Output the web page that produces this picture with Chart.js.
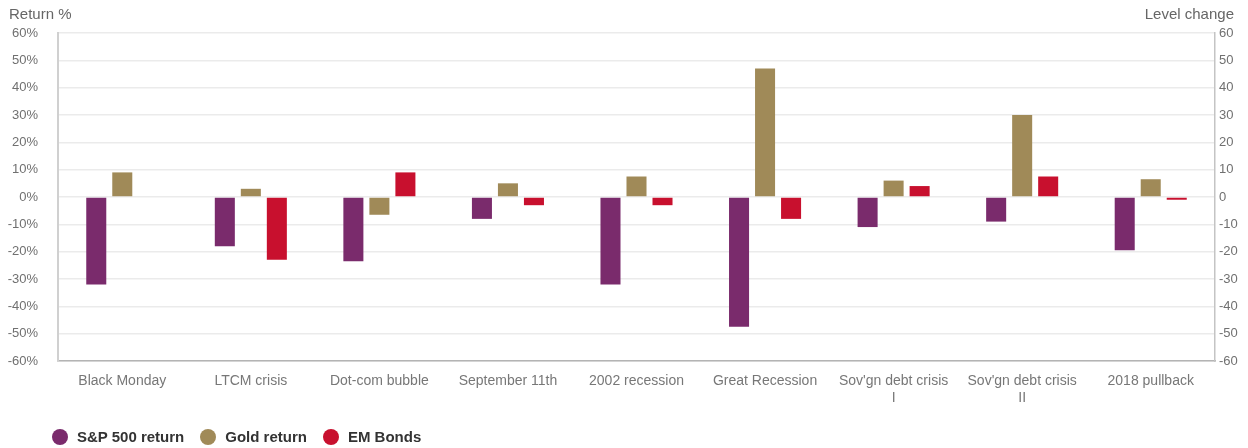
<!DOCTYPE html>
<html>
<head>
<meta charset="utf-8">
<script src="https://cdn.jsdelivr.net/npm/chart.js@4"></script>
<style>
  html, body { margin: 0; padding: 0; background: #fff; }
  #wrap { position: relative; width: 1248px; height: 448px; font-family: "Liberation Sans", Arial, sans-serif; }
  .axis-title { position: absolute; top: 5px; font-size: 15px; color: #666; }
  #leftTitle { left: 9px; }
  #rightTitle { right: 14px; }
  #legend { position: absolute; left: 52px; top: 428px; display: flex; align-items: center; }
  .item { display: flex; align-items: center; margin-right: 16px; font-size: 15px; font-weight: bold; color: #333; }
  .dot { width: 16px; height: 16px; border-radius: 50%; margin-right: 9px; }
</style>
</head>
<body>
<div id="wrap">
  <canvas id="crisisChart" width="1248" height="448"></canvas>
  <div class="axis-title" id="leftTitle">Return %</div>
  <div class="axis-title" id="rightTitle">Level change</div>
  <div id="legend"></div>
</div>
<script>
const categories = [
    'Black Monday', 'LTCM crisis', 'Dot-com bubble', 'September 11th', '2002 recession',
    'Great Recession', ["Sov'gn debt crisis", 'I'], ["Sov'gn debt crisis", 'II'], '2018 pullback'
];
const spReturn   = [-32, -18, -23.5, -8, -32, -47.5, -11, -9, -19.5];
const goldReturn = [9, 3, -6.5, 5, 7.5, 47, 6, 30, 6.5];
const emBonds    = [null, -23, 9, -3, -3, -8, 4, 7.5, -1];
const tickValues = [60, 50, 40, 30, 20, 10, 0, -10, -20, -30, -40, -50, -60];

const fontFamily = '"Liberation Sans", Arial, sans-serif';
const gridColor = '#ebebeb';

const ctx = document.getElementById('crisisChart').getContext('2d');
const chart = new Chart(ctx, {
    type: 'bar',
    data: {
        labels: categories,
        datasets: [
            { label: 'S&P 500 return', data: spReturn, backgroundColor: '#7a2b6c' },
            { label: 'Gold return', data: goldReturn, backgroundColor: '#a08a58' },
            { label: 'EM Bonds', data: emBonds, backgroundColor: '#c8102e' }
        ]
    },
    options: {
        responsive: false,
        animation: false,
        layout: { padding: { top: 33, left: 8, right: 0, bottom: 40 } },
        datasets: { bar: { categoryPercentage: 0.607, barPercentage: 0.77 } },
        plugins: {
            legend: { display: false },
            tooltip: { enabled: false }
        },
        scales: {
            x: {
                grid: { display: false },
                border: { color: '#b4b4b4', width: 1.5 },
                afterFit: (axis) => { axis.height = 47; },
                ticks: { color: '#777', font: { family: fontFamily, size: 14 }, maxRotation: 0, autoSkip: false, padding: 4 }
            },
            y: {
                position: 'left',
                min: -60, max: 60,
                afterBuildTicks: (axis) => { axis.ticks = tickValues.map(v => ({ value: v })); },
                afterFit: (axis) => { axis.width = 50; },
                grid: { color: gridColor, lineWidth: 1.5, drawTicks: false },
                border: { color: '#d0d0d0', width: 2 },
                ticks: { color: '#707070', font: { family: fontFamily, size: 13 }, padding: 20, callback: (val) => val + '%' }
            },
            y2: {
                position: 'right',
                min: -60, max: 60,
                afterBuildTicks: (axis) => { axis.ticks = tickValues.map(v => ({ value: v })); },
                afterFit: (axis) => { axis.width = 33; },
                grid: { display: false, drawTicks: false },
                border: { color: '#c4c4c4', width: 1.5 },
                ticks: { color: '#707070', font: { family: fontFamily, size: 13 }, padding: 4, callback: (val) => val }
            }
        }
    }
});

// legend built from the chart's datasets
const legendEl = document.getElementById('legend');
chart.data.datasets.forEach(ds => {
    const item = document.createElement('div');
    item.className = 'item';
    item.innerHTML = `<span class="dot" style="background:${ds.backgroundColor}"></span>${ds.label}`;
    legendEl.appendChild(item);
});
</script>
</body>
</html>
